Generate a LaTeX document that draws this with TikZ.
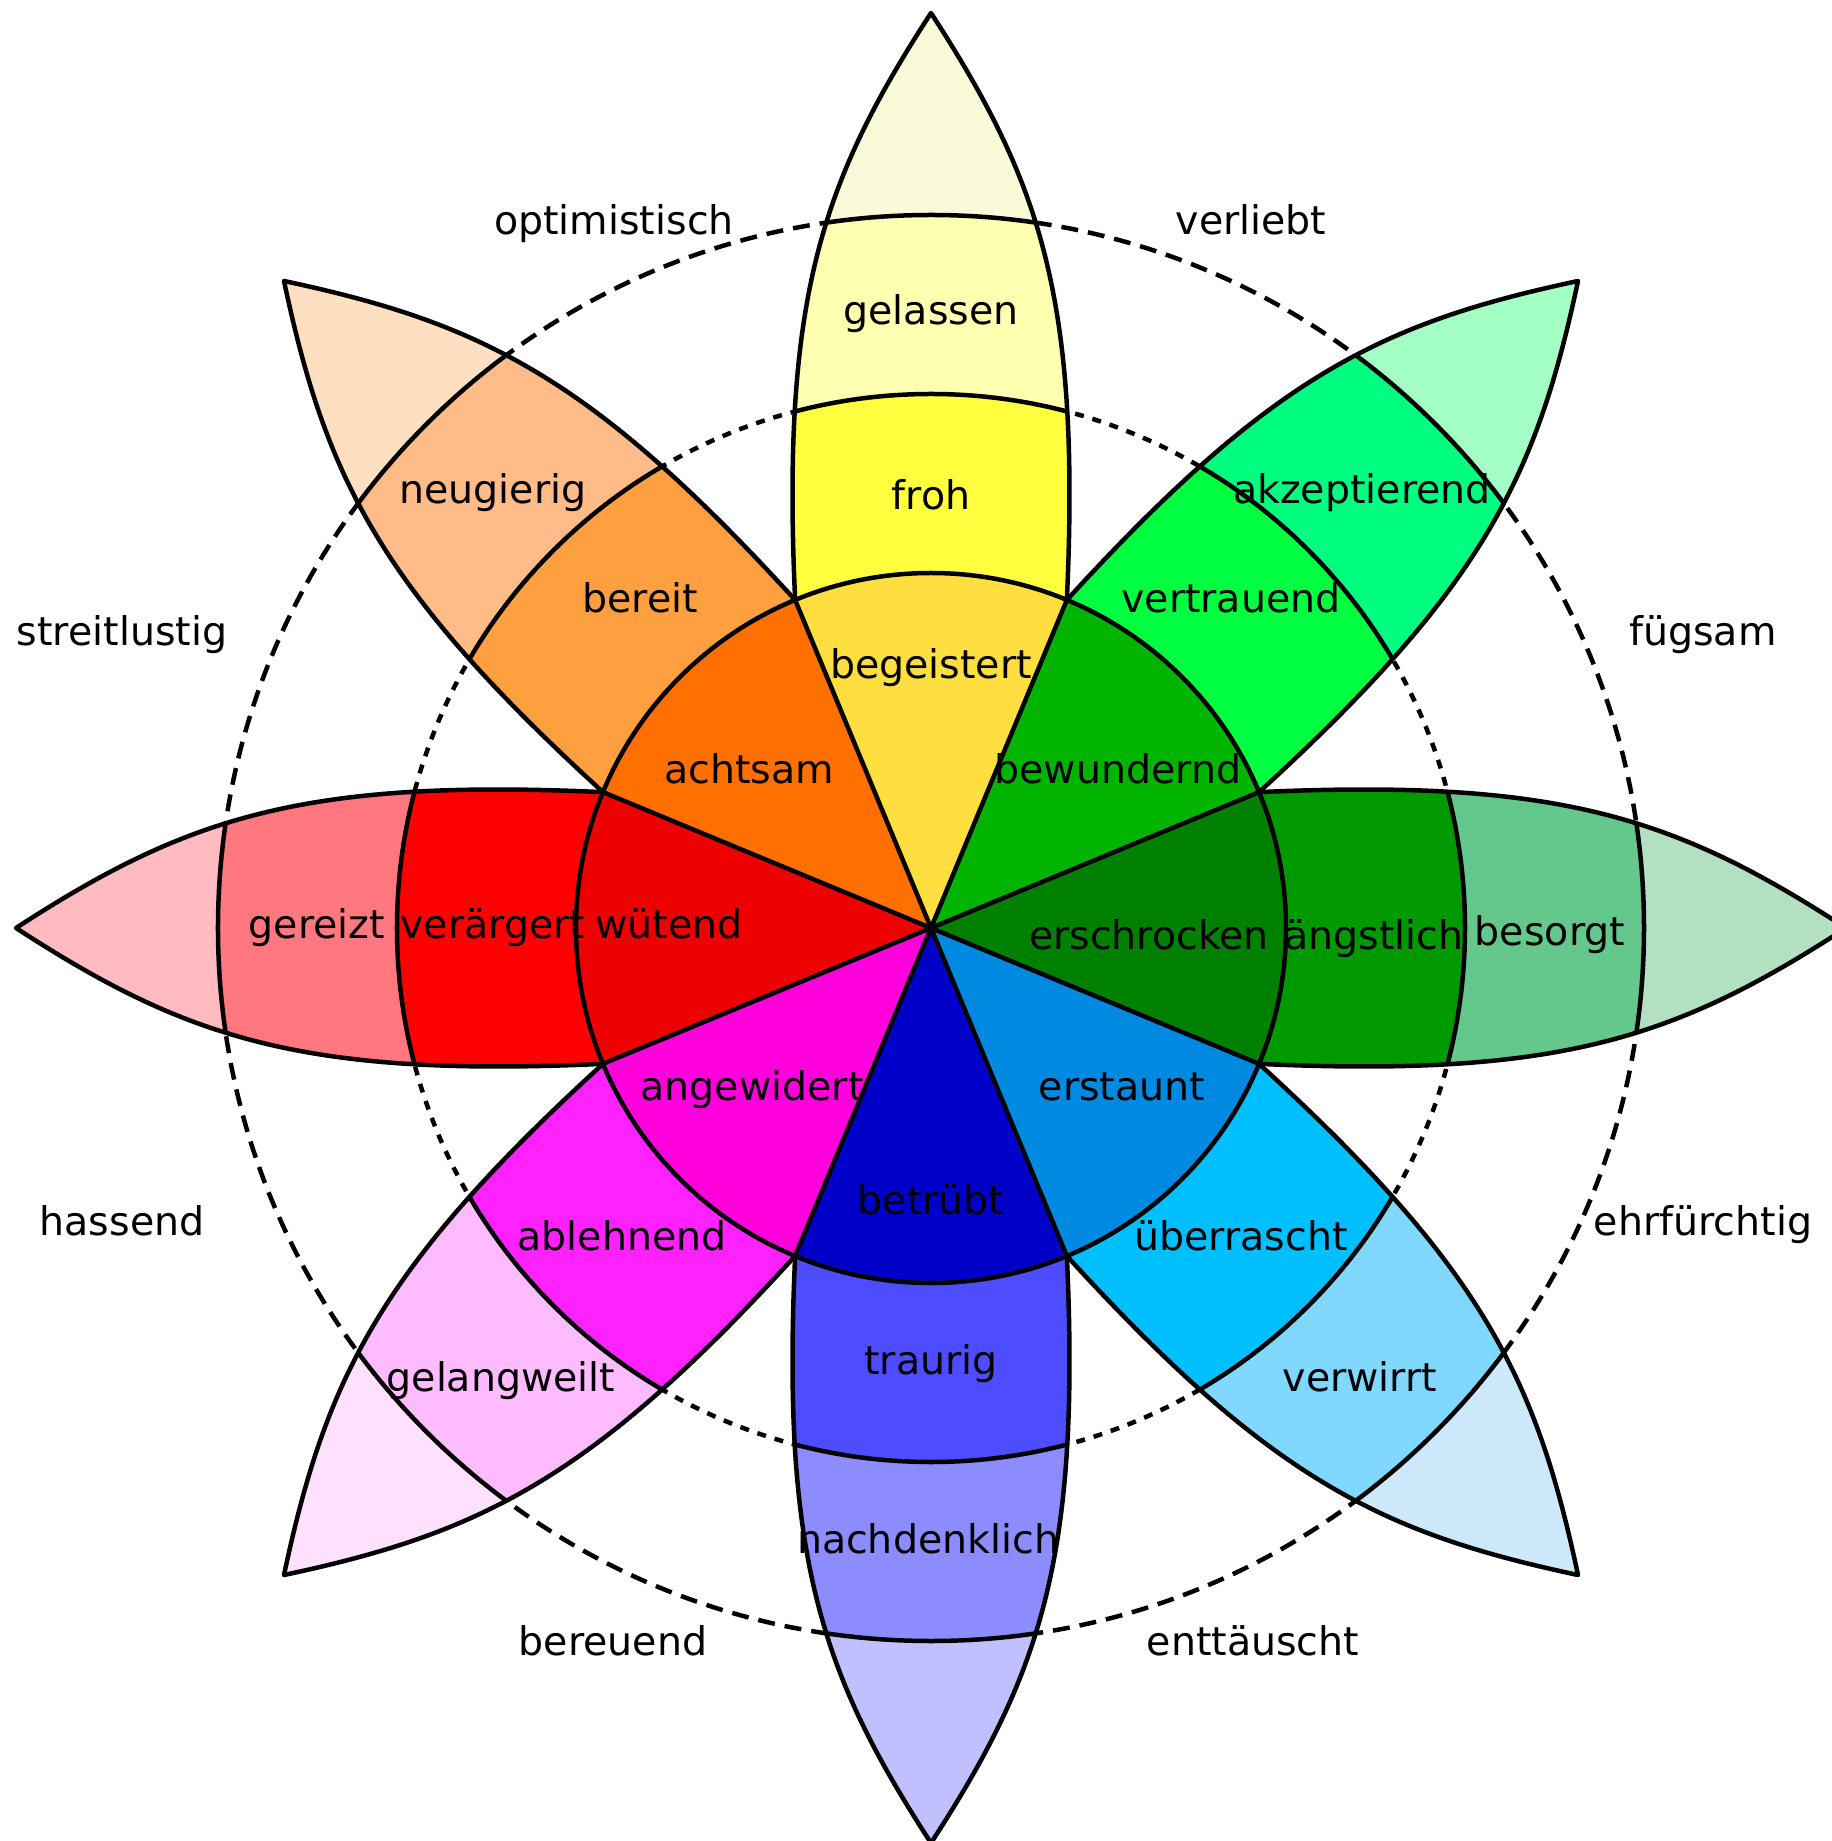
\documentclass[tikz,border=0pt]{standalone}
\usepackage{fontspec}
\setmainfont{DejaVu Sans}
% petal colours: tip, level3, level2, level1
\definecolor{jT}{HTML}{FAFAD8}\definecolor{jC}{HTML}{FFFFB1}\definecolor{jB}{HTML}{FFFF40}\definecolor{jA}{HTML}{FFDE40}
\definecolor{tT}{HTML}{A3FFC3}\definecolor{tC}{HTML}{00FF80}\definecolor{tB}{HTML}{00FF40}\definecolor{tA}{HTML}{00B400}
\definecolor{fT}{HTML}{B3E0C0}\definecolor{fC}{HTML}{64C88C}\definecolor{fB}{HTML}{009900}\definecolor{fA}{HTML}{008000}
\definecolor{sT}{HTML}{CCE8FA}\definecolor{sC}{HTML}{80D8FF}\definecolor{sB}{HTML}{00BFFF}\definecolor{sA}{HTML}{0089E0}
\definecolor{dT}{HTML}{C0C0FF}\definecolor{dC}{HTML}{8C8CFF}\definecolor{dB}{HTML}{4D4DFF}\definecolor{dA}{HTML}{0000C8}
\definecolor{gT}{HTML}{FFE0FF}\definecolor{gC}{HTML}{FFBBFF}\definecolor{gB}{HTML}{FF22FF}\definecolor{gA}{HTML}{FF00DD}
\definecolor{aT}{HTML}{FFBBBF}\definecolor{aC}{HTML}{FF7880}\definecolor{aB}{HTML}{FF0000}\definecolor{aA}{HTML}{EE0000}
\definecolor{nT}{HTML}{FFDFC2}\definecolor{nC}{HTML}{FFBB88}\definecolor{nB}{HTML}{FFA040}\definecolor{nA}{HTML}{FF7000}
\tikzset{
  edge/.style={draw=black, line width=4.5pt, line join=round},
  lens/.style={insert path={(0,0) -- (135.85,327.98)
      .. controls (149.8,631) and (109,747) .. (0,915)
      .. controls (-109,747) and (-149.8,631) .. (-135.85,327.98) -- cycle}},
  lbl/.style={font=\fontsize{39.5}{47}\selectfont, inner sep=0pt, text height=29pt, text depth=9pt, text=black, yshift=-4pt},
}
\newcommand\mypetal[4]{%
  \begin{scope}[rotate=#1]
    \begin{scope}
      \clip[lens];
      \fill[#2] (-300,-100) rectangle (300,1000);
      \fill[#3] (0,0) circle[radius=713];
      \fill[#4] (0,0) circle[radius=534];
      \draw[edge] (0,0) circle[radius=713] (0,0) circle[radius=534];
    \end{scope}
    \draw[edge, lens];
  \end{scope}}
\newcommand\mysector[2]{%
  \fill[#2] (0,0) -- ({#1-22.5}:355) arc[start angle={#1-22.5}, end angle={#1+22.5}, radius=355] -- cycle;}
\begin{document}
\begin{tikzpicture}[x=1pt,y=1pt]
\useasboundingbox (-931,-913) rectangle (900,928);
\fill[white] (-931,-913) rectangle (900,928);
% dashed circles
\draw[line width=4.5pt, dash pattern=on 17pt off 10pt] (0,0) circle[radius=713];
\draw[line width=4.5pt, dash pattern=on 9pt off 9pt] (0,0) circle[radius=534];
% petals
\mypetal{0}{jT}{jC}{jB}
\mypetal{-45}{tT}{tC}{tB}
\mypetal{-90}{fT}{fC}{fB}
\mypetal{-135}{sT}{sC}{sB}
\mypetal{180}{dT}{dC}{dB}
\mypetal{135}{gT}{gC}{gB}
\mypetal{90}{aT}{aC}{aB}
\mypetal{45}{nT}{nC}{nB}
% inner sectors
\mysector{90}{jA}
\mysector{45}{tA}
\mysector{0}{fA}
\mysector{-45}{sA}
\mysector{-90}{dA}
\mysector{-135}{gA}
\mysector{180}{aA}
\mysector{135}{nA}
\coordinate (c) at (0,0);
\foreach \a in {22.5,67.5,...,337.5} \draw[edge] (c) -- (\a:355);
\draw[edge] (c) circle[radius=355];
% labels in petals
\node[lbl] (gelassen) at (0,617) {gelassen};
\node[lbl] (froh) at (0,432) {froh};
\node[lbl] (begeistert) at (0,263) {begeistert};
\node[lbl] (akzeptierend) at (431,438) {akzeptierend};
\node[lbl] (vertrauend) at (300,329) {vertrauend};
\node[lbl] (bewundernd) at (187,158) {bewundernd};
\node[lbl] (besorgt) at (619,-4) {besorgt};
\node[lbl] (angstlich) at (443,-8) {ängstlich};
\node[lbl] (erschrocken) at (218,-8) {erschrocken};
\node[lbl] (verwirrt) at (429,-449) {verwirrt};
\node[lbl] (uberrascht) at (310,-308) {überrascht};
\node[lbl] (erstaunt) at (191,-158) {erstaunt};
\node[lbl] (nachdenklich) at (-3,-611) {nachdenklich};
\node[lbl] (traurig) at (0,-432) {traurig};
\node[lbl] (betrubt) at (0,-272) {betrübt};
\node[lbl] (gelangweilt) at (-430,-449) {gelangweilt};
\node[lbl] (ablehnend) at (-309,-308) {ablehnend};
\node[lbl] (angewidert) at (-179,-158) {angewidert};
\node[lbl] (gereizt) at (-614,3) {gereizt};
\node[lbl] (verargert) at (-438,3) {verärgert};
\node[lbl] (wutend) at (-262,3) {wütend};
\node[lbl] (neugierig) at (-438,438) {neugierig};
\node[lbl] (bereit) at (-291,329) {bereit};
\node[lbl] (achtsam) at (-182,158) {achtsam};
% outer labels
\node[lbl] (optimistisch) at (-317,707) {optimistisch};
\node[lbl] (verliebt) at (320,707) {verliebt};
\node[lbl] (fugsam) at (772,296) {fügsam};
\node[lbl] (ehrfurchtig) at (772,-293) {ehrfürchtig};
\node[lbl] (enttauscht) at (322,-713) {enttäuscht};
\node[lbl] (bereuend) at (-318,-713) {bereuend};
\node[lbl] (hassend) at (-809,-293) {hassend};
\node[lbl] (streitlustig) at (-809,296) {streitlustig};
\end{tikzpicture}
\end{document}
